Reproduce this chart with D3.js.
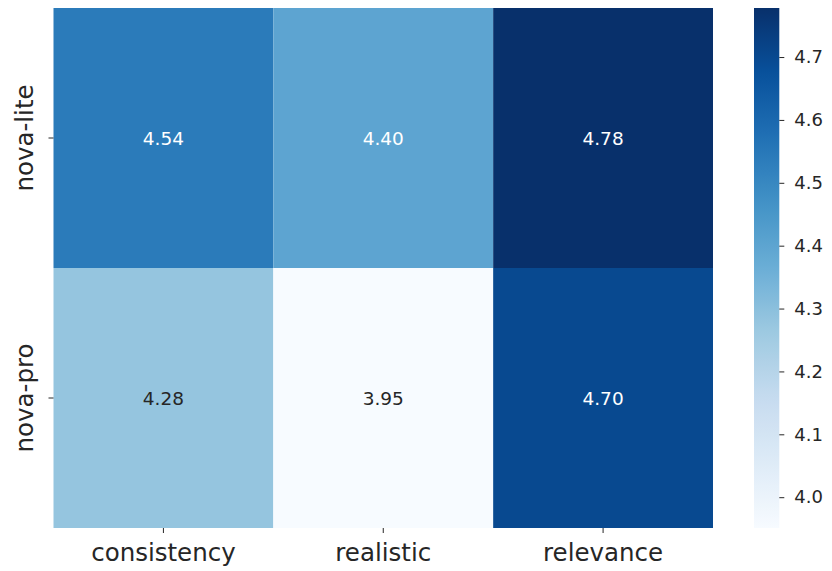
<!DOCTYPE html>
<html><head><meta charset="utf-8">
<script src="https://cdn.jsdelivr.net/npm/d3@7"></script>
<style>body{margin:0;background:#fff}svg{display:block}text{font-family:"DejaVu Sans",sans-serif}</style>
</head><body><svg id="c" width="832" height="571"></svg>
<script>
const rows = ["nova-lite", "nova-pro"];
const cols = ["consistency", "realistic", "relevance"];
const values = [
  [4.54, 4.40, 4.78],
  [4.28, 3.95, 4.70]
];
const cbTicks = [4.0, 4.1, 4.2, 4.3, 4.4, 4.5, 4.6, 4.7];
const bluesStops = ["#f7fbff","#deebf7","#c6dbef","#9ecae1","#6baed6","#4292c6","#2171b5","#08519c","#08306b"];

const svg = d3.select("#c");
const L = 53.5, R = 713, T = 8, B = 528;
const vmin = 3.951, vmax = 4.778;
const blues = d3.scaleLinear().domain(d3.range(9).map(i => i / 8)).range(bluesStops).interpolate(d3.interpolateRgb).clamp(true);
const norm = d3.scaleLinear().domain([vmin, vmax]).range([0, 1]);
const color = v => blues(norm(v));

const x = d3.scaleBand().domain(cols).range([L, R]);
const y = d3.scaleBand().domain(rows).range([T, B]);

const cells = [];
rows.forEach((r, i) => cols.forEach((c, j) => cells.push({r, c, v: values[i][j]})));

svg.append("g").selectAll("rect").data(cells).join("rect")
  .attr("x", d => x(d.c)).attr("y", d => y(d.r))
  .attr("width", x.bandwidth()).attr("height", y.bandwidth())
  .attr("fill", d => color(d.v));

function lum(c) {
  const rgb = d3.rgb(c);
  const f = u => { u /= 255; return u <= 0.03928 ? u / 12.92 : Math.pow((u + 0.055) / 1.055, 2.4); };
  return 0.2126 * f(rgb.r) + 0.7152 * f(rgb.g) + 0.0722 * f(rgb.b);
}
svg.append("g").selectAll("text").data(cells).join("text")
  .attr("x", d => x(d.c) + x.bandwidth() / 2)
  .attr("y", d => y(d.r) + y.bandwidth() / 2)
  .attr("text-anchor", "middle").attr("dominant-baseline", "central")
  .attr("font-size", 18.5)
  .attr("fill", d => lum(color(d.v)) > 0.408 ? "#262626" : "#ffffff")
  .text(d => d.v.toFixed(2));

// x axis
const xa = svg.append("g").attr("transform", `translate(0,${B})`)
  .call(d3.axisBottom(x).tickSize(5).tickPadding(11));
xa.select(".domain").remove();
xa.selectAll(".tick line").attr("stroke", "#262626").attr("stroke-width", 1);
xa.selectAll(".tick text").attr("font-size", 24.5).attr("fill", "#262626").attr("font-family", "DejaVu Sans");

// y axis
const ya = svg.append("g").attr("transform", `translate(${L},0)`)
  .call(d3.axisLeft(y).tickSize(5).tickPadding(8));
ya.select(".domain").remove();
ya.selectAll(".tick line").attr("stroke", "#262626").attr("stroke-width", 1);
ya.selectAll(".tick text").attr("font-size", 24.5).attr("fill", "#262626").attr("font-family", "DejaVu Sans")
  .attr("text-anchor", "middle").attr("dy", null).attr("x", null)
  .attr("transform", "translate(-21,0) rotate(-90)");

// colorbar
const cbL = 754, cbW = 25.3;
const cy = d3.scaleLinear().domain([vmin, vmax]).range([B, T]);
const defs = svg.append("defs");
const grad = defs.append("linearGradient").attr("id", "cbg").attr("x1", 0).attr("y1", 1).attr("x2", 0).attr("y2", 0);
d3.range(0, 1.0001, 0.02).forEach(t => grad.append("stop").attr("offset", t).attr("stop-color", blues(t)));
svg.append("rect").attr("x", cbL).attr("y", T).attr("width", cbW).attr("height", B - T).attr("fill", "url(#cbg)");
const ca = svg.append("g").attr("transform", `translate(${cbL + cbW},0)`)
  .call(d3.axisRight(cy).tickValues(cbTicks).tickFormat(d3.format(".1f")).tickSize(5).tickPadding(10));
ca.select(".domain").remove();
ca.selectAll(".tick line").attr("stroke", "#262626").attr("stroke-width", 1);
ca.selectAll(".tick text").attr("font-size", 18).attr("fill", "#262626").attr("font-family", "DejaVu Sans");
</script></body></html>
